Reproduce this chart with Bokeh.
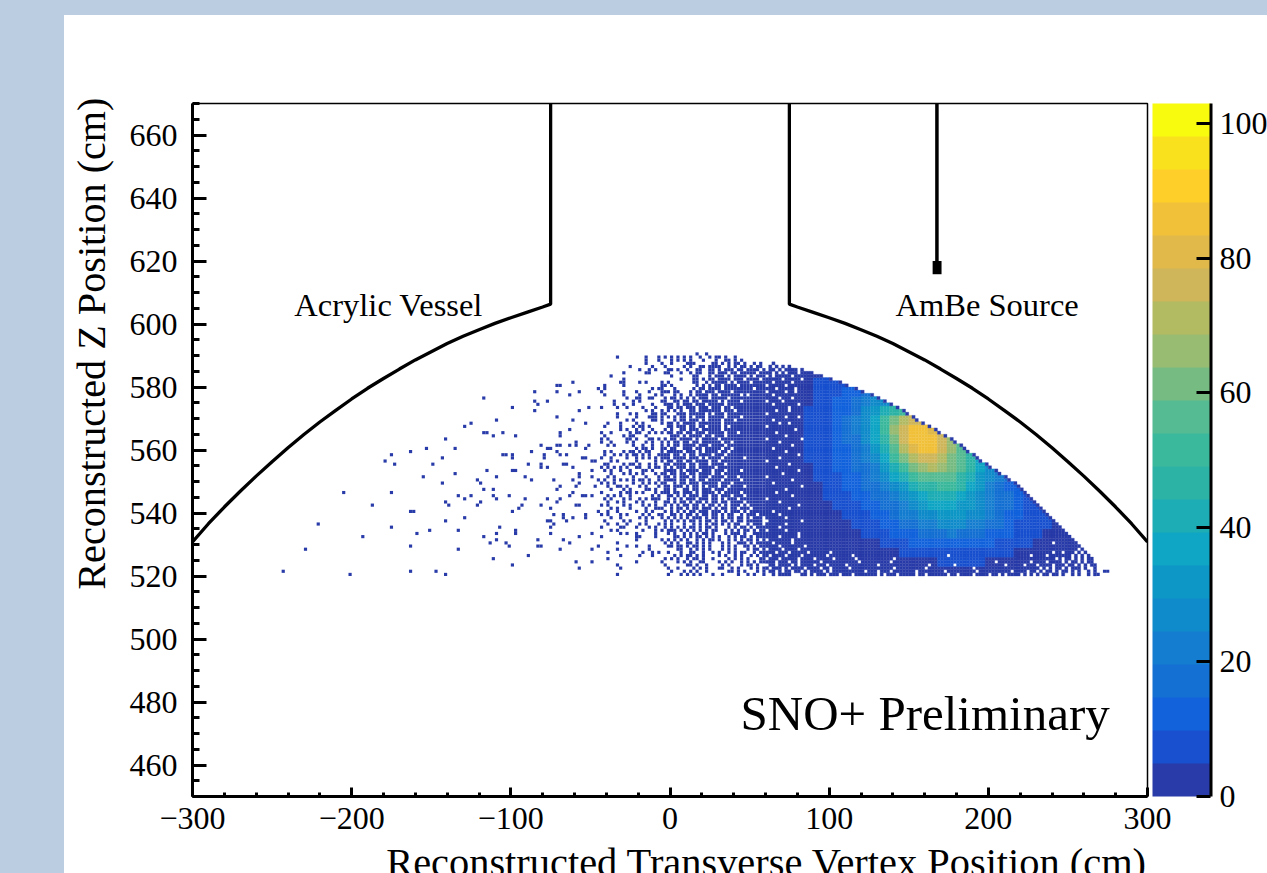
from bokeh.plotting import figure
from bokeh.models import (ColumnDataSource, LinearColorMapper, ColorBar, FixedTicker, Label,
                          Range1d, Title)
from bokeh.embed import file_html
from bokeh.resources import INLINE

PAGE_BLUE = "#bbcde0"
PALETTE = ["#283ba8", "#1850cf", "#1262dc", "#1470d2", "#157dd0", "#0f8aca", "#0d97c6", "#0fa5c4",
           "#1dadb5", "#2db3a6", "#3bb99c", "#55bb93", "#76bc82", "#98bc72", "#b2ba62", "#cfb65a",
           "#e0b94a", "#f2c13a", "#fdcf28", "#fae11d"]
PALETTE_TOP = "#f9fb0e"
COUNT_MAX = 103

X_TICKS = [-300, -200, -100, 0, 100, 200, 300]
X_TICK_LABELS = ["\u2212300", "\u2212200", "\u2212100", "0", "100", "200", "300"]
X_MINOR = [-280, -260, -240, -220, -180, -160, -140, -120, -80, -60, -40, -20, 20, 40, 60, 80,
           120, 140, 160, 180, 220, 240, 260, 280]
Z_TICKS = [460, 480, 500, 520, 540, 560, 580, 600, 620, 640, 660]
Z_MINOR = [450, 455, 465, 470, 475, 485, 490, 495, 505, 510, 515, 525, 530, 535, 545, 550, 555,
           565, 570, 575, 585, 590, 595, 605, 610, 615, 625, 630, 635, 645, 650, 655, 665, 670]
COLORBAR_TICKS = [0, 20, 40, 60, 80, 100]

# Acrylic vessel outline
AV_X = [300, 290, 280, 270, 260, 250, 240, 230, 220, 210, 200, 190, 180, 170, 160, 150, 140, 130, 120,
        110, 100, 90, 80, 75]
AV_Z = [530.8, 536.6, 541.9, 546.9, 551.7, 556.3, 560.7, 564.9, 568.9, 572.6, 576.2, 579.6, 582.7, 585.7,
        588.6, 591.2, 593.8, 596.1, 598.2, 600.2, 602.0, 603.7, 605.4, 606.3]
AV_TOP = 670
ROD_X = [167.7, 167.7]
ROD_Z = [670, 619]
SOURCE_BOX = [165, 170.6, 615.8, 620]

# Isolated occupied bins in the sparse left part and the right tail
SPARSE_X = [-244,-202,-164,-148,-142,-230,-222,-206,-188,-194,-176,-176,-180,-176,-174,-164,-154,-150,-144,-136,
            -142,-130,-126,-118,-100,-110,-118,-116,-112,-106,-98,-86,-86,-86,-84,-78,-72,-70,-72,-64,-62,-58,-58,
            -52,-46,-72,-62,-54,-64,-70,-70,-156,-144,-136,-164,-162,-160,-152,-164,-142,-142,-140,-134,-130,-126,
            -130,-134,-134,-122,-120,-116,-118,-112,-112,-110,-110,-102,-100,-98,-100,-106,-104,-100,-92,-88,-90,
            -92,-94,-96,-100,-120,-122,-108,-110,-118,-114,-110,-104,-102,-98,-98,-112,-100,-90,-84,-84,-82,-68,-70,
            -64,-76,-74,-76,-78,-76,-74,-76,-82,-78,-72,-70,-74,-62,-58,-60,-70,-72,-62,-64,-82,-88,-80,-80,-78,-76,
            -82,-82,-78,-72,-70,-72,-70,-66,-64,-60,-60,-54,-52,-68,-66,-62,-56,-54,-50,-48,-50,-58,-58,-50,-46,-48,
            -68,-68,-66,-62,-54,-54,-46,-58,-50,-50,-46,-60,-50,-58,-56,-54,-60,-58,-50,
            272,274,268]
SPARSE_Z = [521,520,521,521,520,528,536,546,542,532,546,535,556,558,555,559,560,555,557,560,
            563,567,568,576,573,569,565,565,564,565,564,572,578,575,574,575,580,580,578,577,581,578,572,
            573,579,570,569,568,566,565,564,551,549,552,540,540,533,534,529,537,543,542,545,544,545,
            538,534,528,550,549,553,547,547,545,551,544,545,553,553,557,558,558,558,551,550,555,
            544,542,541,540,543,542,535,533,532,530,531,530,529,534,533,525,523,526,531,529,529,531,528,
            530,533,536,535,537,537,539,541,542,544,543,544,550,550,549,548,548,547,546,545,561,559,558,557,560,560,
            555,554,554,561,561,559,558,558,561,562,561,560,561,555,555,554,557,557,556,556,553,552,551,551,550,548,
            539,538,537,538,539,538,540,532,533,528,529,524,524,522,545,545,542,542,545,
            521,521,520]

# Occupied bins (2 cm x 1 cm) of the speckled zone; first column x = -44, first row z = 590
SPECKLE_X0 = -44
SPECKLE_Z0 = 590
SPECKLE_ROWS = [
"..............................#..#..................",
".....#........#...#.#.#.#.#.#..#..#.##.#..#.........",
"..............#...#...#.#.#.#...#...#..##.#.#.......",
"..............#....#..#....###.....##.#.#.##.#..#.#.",
".........#......#...#.....#.#..##.####..#.#.##.#.##.",
"............#..#.#...##.#..#..##..##.#.###.##.####.#",
".......#......##....##...#..#.##..##.###.##.#####.##",
"...#..................#......##...#.###.#.####.#.###",
".......#.................#...##.#.##.####.###.####.#",
"......##....#.#....#.#.......##..#.#####.#.####.####",
".#.....#...........##.#.......#.#.#.##.####.########",
".#..............#.##...#.....#.##.####.#########.###",
"#......#...#...#...###.##...#.##.###.####.##########",
".#.....#....#....#.#...#.#..#.####.##.######.#.#####",
"........#..##..##...#.##.#.#.#.###.#####.###########",
"....#.....#.#......##..##.##.##.#####.#.####.#######",
"....#..#..#.....#...###.#.###.###.#####.############",
"#....#..#....#...#...##.##.###.###.###.##.##########",
"..............#.#..#.#.#.#..##.#######.###.#########",
".....#...#.#....##.##...###.#####.#.###.############",
".....#.....#...###.#.#.#.##.#.###.#####.####.#######",
"........#.#.....##.#...#.##.###.#.####.###.#########",
"..#...#....#.#.....#.##.#.####.#######.#############",
".#....#...#.##.#.....##.###.##.##.####.#.###########",
"......#.#..#.#..#...#.#..##.###.######.#############",
"#..#.....#.##..#.#.#.##.##.##.###.#####.###.########",
".#.....#.##...#.......###.#.####.##.###.############",
"#.#.....##.#...##.#.#.##.####.#.#####.##############",
"#..#....#.#...#.#..#.#.##.##.##.######.##.##########",
"..#.#.....#..#..#..#.#.##.####.###.####.############",
"...........#.##.#..##.##..###.##.#####.##.##########",
".#.#...#.##.#.##...#.#####.###.#.####.##.###########",
".#..#.#.#.##.#.#..####.##.#.##.####.###.############",
"#..#....#..#.#.#.#.###.####.###.#.####.######.######",
"...#.#.....#.....#.#.##.##.##.####.##.##############",
".##....#.##.#..#.#..##.####.##.###.####.############",
"#.#.#.#.#..##..#.##.#.#.###.##.#####.###############",
".#.#..#..#...##.#...####.#.####.###.###.####.#######",
"...#...#.#.#.#...#.##.##.##.##.####.##.#############",
"..#.#.....#...#...#.##.#.###.#.###.####.###.########",
".#..#.#.#.#.##.#..#.####.##.##.##.####.#####.#######",
"#.#.#.....#..#.#.#.##..#.##.###.#####.###.##########",
"..#..##.#...#.#...#.##.###.#.##.#.###.##.####.######",
"...#...#.#....##.#..##.#..##.##.###.###.############",
"#.....#.##.#.#...#.###.##.###.#.####.#.#####.#######",
"..#.#.#..#......#.#..##.#.#.###.##.##.###.###.######",
".#.#...#.#..#.#.###..#.#.#.###.###.##.#.###.########",
"..#..#.#...#.#...#..##.#.##.#.##.#.##.##.####.######",
"#.#....#.#...#.#.#..#.#.#.##.##.#.##.#.#.###.#.#####",
"...#.#...#....#..###..#.##.#.##.###.#.##.##.###.####",
"..#..#.....#..#.#...#.#.#.#.##.###.###.#.###.#.#####",
"#.#...#.#....#.#..##..##.#.##.#.##.##.#.##..#.###.##",
"...#..#.....#.#.#..#.#.#.#.#.###.#.##.#.##.##.#.###.",
".#.....#.#....#.....#.#.#.#.##.#.##.#.##.#.##.#####.",
"..#..#..#...#.#...#.#.#...#..#.#.#.##.#.#.##..#.###.",
"#.....##...#...#.#..#.#.#.#.##.#.##.#...#.#.##.#.###",
"...#.#.......#...#.#.###.#.#.#.#.#.##..#.#.#.##.#.##",
"......#.#..#.....#...#.#..#.#.#.##.#...#.###.#..####",
"#..........##....#.....##.#.#.##.#.#.#..#.#.##.#.###",
"...........#.......#.#.#.#.#..#.#.##.#..#.#.#.##.#.#",
".....#..............#.#.#..##.#.#.#...#.#..###.#.###",
"........#..#...#.....##.##.#.##.#.#...#.#.#..##.#.##",
".....#.........#........##..#.#.#.#...#.#.#...#.##.#",
"..#..........#..#.#..#...#..##..#..#.#..#.#.##..#.##",
"......#.....#...#......#.#.##.#.#....#.#..#.#..#.#.#",
"..#.................#.#.#..#.##.#..#....#.#.#.#...##",
"...........#.......#....#.#.#..##....#.#.#..#.#.#.##",
".....#..............#......##.#..#....#.#...#.##.#..",
"......#..............#..#....#.#.#...##..#.#...#.#.#",
"......................#...#.#.#..#......##.#.#...#.#",
".....#...............#...#.#.#.#...#..#....#..#.#..#",
]

# Right boundary of the occupied bins, one value per 1 cm row from z = 520
EDGE_Z0 = 520
EDGE_X = [268, 268, 268, 267, 266, 265, 263, 261, 259, 257, 255, 253, 251, 249, 247, 245, 243, 242, 240, 238,
          235, 233, 231, 229, 227, 225, 223, 221, 219, 217, 214, 211, 208, 205, 202, 199, 196, 193, 191, 188,
          185, 183, 180, 177, 174, 170, 167, 163, 160, 156, 153, 150, 147, 143, 139, 135, 131, 127, 122, 117,
          112, 107, 102, 96, 90, 84, 78, 66]
RIM_COUNT = 4

# Empty bins inside the dense part. Rows from z = 520 upward; first column x = 60, 2 cm per character
EMPTY_X0 = 60
EMPTY_Z0 = 520
EMPTY_ROWS = [
"##.#....###..#.#...#...#...#.......#.#...#.....#..#......#..#....#....#..#.#....#.#.#.#..#..#.##.#.##.#..",
"#..#.#..#..#.#....#.#..........#...#...#.......#........#.........#..........#....#..#.#..#.#..#.#.##.#.",
".#...#.#....#....#..#.....#.............#.........#..............#....................#.#.#..#.#...#.##.",
"#..#....#.#....#...#.....#.........#...............#.......#...............#.....#...#....#...#..#.#.#.",
"...#...#..#......#...........#.........#................................#..........#....#....#.#..#.#.",
"#...#.....#....#.....#......#...........#..................................................#.#..#.#.#..",
".#....#....#.......#.......#.............................#.........................#....#.......#.#.#.",
"...#...#.....#......#.....................................................................#..#...#.#..",
"#....#....#.......................................................................................#.#..",
"....#.......#......................................................................................#.#.",
"..#.....#.................................................................................#.........#.",
"#.......#...........................................................................................#",
"....#.....#...........................................................................................",
"..........#..",
"#.....#......",
"....#.......",
"......#.....",
"#..........#",
"......#.....",
"....#.......",
"..#.........",
".......#....",
"..........#.",
"....#.......",
"#...........",
"........#...",
"...#........",
"......#.....",
"...........#",
"..#.........",
"........#...",
"#...........",
".....#......",
"..........#.",
"...#........",
".......#....",
"#...........",
"....#.......",
"..........#.",
"......#.....",
"..#.........",
"........#...",
"....#.......",
"#..........#",
"......#.....",
"...#........",
".........#..",
"#...........",
"....#..#....",
"..#.........",
"......#...#.",
"#...........",
"...#...#....",
".......#....",
"..#.......#.",
"#....#......",
"....#...#...",
"..#.........",
"#.....#..#..",
"...#.....#..",
"#.....#.....",
"..#.....#...",
".....#.....#",
"#.#.....#...",
"..#.#.#...#.",
"#..#.#....#.",
"#.#.#.#.#.#.",
"##.#.##.#.#.",
]

COUNT_X0 = 60
COUNT_Z0 = 520
COUNT_ROWS = [
[1,1,1,1,1,1,1,1,1,1,1,2,2,2,2,2,2,2,2,2,2,2,2,2,2,2,2,2,2,2,1,1,1,1,1],
[1,1,1,1,1,1,1,1,1,2,2,2,2,3,3,3,4,4,5,5,5,5,5,4,4,3,3,3,2,2,2,2,1,1,1],
[1,1,1,1,1,1,2,2,2,2,3,3,3,4,5,6,7,7,8,8,8,8,7,6,6,5,4,4,3,2,2,2,2,1,1],
[1,1,1,1,2,2,2,2,3,3,4,4,5,7,8,10,11,12,13,13,13,12,11,10,9,7,6,5,4,3,3,2,2,2,1],
[1,1,1,2,2,2,2,3,3,4,5,6,8,10,12,14,16,18,19,20,19,18,16,14,12,10,8,6,5,4,3,3,2,2,2],
[1,1,2,2,2,2,3,3,4,5,6,8,10,13,16,19,21,23,25,26,25,24,21,18,15,12,9,7,6,5,4,3,3,2,2],
[1,2,2,2,2,3,3,4,5,7,8,10,12,16,20,23,26,29,31,31,30,28,25,21,17,14,10,8,6,5,4,3,3,2,2],
[1,2,2,2,3,3,4,5,8,9,11,13,15,19,24,28,32,35,37,37,34,30,27,22,18,15,11,9,7,5,4,3,3,2,2],
[2,2,2,2,3,4,5,7,9,11,13,15,18,23,28,33,37,40,41,41,37,31,26,22,18,15,12,9,7,5,4,3,3,2,2],
[2,2,2,3,3,4,6,8,10,12,15,18,22,28,34,42,46,48,50,50,45,38,31,24,18,14,11,8,6,5,4,3,3,2,2],
[2,2,2,3,4,5,7,9,11,14,17,21,26,36,44,50,55,58,58,55,48,40,33,26,20,15,11,8,6,5,4,3,3,2,2],
[2,2,2,3,4,6,8,10,12,15,19,24,31,40,52,62,68,70,68,62,54,46,36,28,22,16,12,8,6,5,4,3,3,2,2],
[2,2,3,3,5,7,9,11,13,16,21,28,38,50,62,72,76,76,70,62,54,46,38,30,22,17,12,8,6,5,4,3,3,2,2],
[2,2,3,4,6,7,9,11,14,18,24,32,43,57,70,82,88,86,76,66,56,46,38,30,24,18,12,8,6,5,4,3,3,2,2],
[2,2,3,4,6,7,9,12,15,19,26,35,47,62,76,86,88,86,78,68,58,48,40,30,24,18,12,8,6,5,4,3,3,2,2],
[2,2,3,4,5,7,9,12,15,20,27,37,50,64,76,84,86,82,72,62,52,44,36,28,22,17,12,8,6,5,4,3,3,2,2],
[2,2,3,4,5,7,9,12,15,21,28,37,50,62,70,76,78,72,62,54,46,38,30,24,18,14,10,8,6,5,4,3,3,2,2],
[2,2,3,4,5,6,8,11,14,19,26,33,40,46,52,56,56,50,44,38,30,24,18,14,10,8,6,5,4,3,3,2,2,2,2],
[2,2,3,4,4,6,8,10,13,17,22,26,28,30,32,34,34,30,26,20,16,12,8,6,5,4,3,3,2,2,2,2,2,2,2],
[2,2,3,3,4,6,7,9,11,14,17,20,22,24,24,24,22,20,16,12,8,6,5,4,3,3,2,2,2,2,2,2,2,2,2],
[2,2,3,3,4,5,6,7,7,8,9,10,10,10,10,10,8,7,6,5,4,3,3,2,2,2,2,2,2,2,2,2,2,2,2],
[2,2,2,3,3,3,4,4,5,5,5,5,5,4,4,4,3,3,3,2,2,2,2,2,2,2,2,2,2,2,2,2,2,2,2],
[2,2,2,2,2,2,2,2,2,2,2,2,2,2,2,2,2,2,2,2,2,2,2,2,2,2,2,2,2,2,2,2,2,2,2],
]

p = figure(width=1215, height=905, frame_width=955, frame_height=693,
           x_range=Range1d(-300, 300), y_range=Range1d(450, 670),
           output_backend="svg", toolbar_location=None, min_border_left=140, min_border_right=120,
           min_border_top=88, min_border_bottom=77, margin=(15, 0, 0, 52),
           background_fill_color="white", border_fill_color=None, outline_line_color="black",
           outline_line_width=1.5)
p.grid.visible = False

mapper = LinearColorMapper(palette=PALETTE + [PALETTE_TOP], low=0, high=COUNT_MAX)
fill = {"field": "count", "transform": mapper}

# Dense part: 2 cm x 1 cm bins up to the boundary, value from the count table, empty bins left out
l, b, c = [], [], []
for i, edge in enumerate(EDGE_X):
    z = EDGE_Z0 + i
    row = COUNT_ROWS[min((z - COUNT_Z0) // 3, len(COUNT_ROWS) - 1)]
    empties = EMPTY_ROWS[z - EMPTY_Z0] if z - EMPTY_Z0 < len(EMPTY_ROWS) else ""
    for x in range(COUNT_X0, edge, 2):
        k = (x - EMPTY_X0) // 2
        if k < len(empties) and empties[k] == "#":
            continue
        j = (x - COUNT_X0) // 6
        c.append(RIM_COUNT if x >= edge - 2 else row[j])
        l.append(x)
        b.append(z)
dense = ColumnDataSource(dict(left=l, right=[v + 2 for v in l], bottom=b, top=[v + 1 for v in b], count=c))
p.quad(left="left", right="right", bottom="bottom", top="top", source=dense, fill_color=fill,
       line_color=fill, line_width=0.3)

# Speckle and sparse bins (lowest colour band)
sl, sb = list(SPARSE_X), list(SPARSE_Z)
for i, row in enumerate(SPECKLE_ROWS):
    for j, ch in enumerate(row):
        if ch == "#":
            sl.append(SPECKLE_X0 + 2 * j)
            sb.append(SPECKLE_Z0 - i)
sparse = ColumnDataSource(dict(left=sl, right=[v + 2 for v in sl], bottom=sb, top=[v + 1 for v in sb]))
p.quad(left="left", right="right", bottom="bottom", top="top", source=sparse,
       fill_color=PALETTE[0], line_color=None)

p.line([-v for v in AV_X] + [-AV_X[-1]], AV_Z + [AV_TOP], line_color="black", line_width=3.3)
p.line(AV_X + [AV_X[-1]], AV_Z + [AV_TOP], line_color="black", line_width=3.3)
p.line(ROD_X, ROD_Z, line_color="black", line_width=3.5)
p.quad(left=[SOURCE_BOX[0]], right=[SOURCE_BOX[1]], bottom=[SOURCE_BOX[2]], top=[SOURCE_BOX[3]],
       fill_color="black", line_color=None)

FONT = "Liberation Serif"
ax = p.xaxis[0]
ax.ticker = FixedTicker(ticks=X_TICKS, minor_ticks=X_MINOR)
ax.major_label_overrides = dict(zip(X_TICKS, X_TICK_LABELS))
ax.major_tick_in, ax.major_tick_out = 9, 0
ax.minor_tick_in, ax.minor_tick_out = 4, 0
ay = p.yaxis[0]
ay.ticker = FixedTicker(ticks=Z_TICKS, minor_ticks=Z_MINOR)
ay.major_tick_in, ay.major_tick_out = 14, 0
ay.minor_tick_in, ay.minor_tick_out = 7, 0
for a, standoff in ((ax, 11), (ay, 15)):
    a.axis_line_color = "black"
    a.axis_line_width = 3
    a.major_tick_line_color = "black"
    a.major_tick_line_width = 3
    a.minor_tick_line_color = "black"
    a.minor_tick_line_width = 3
    a.major_label_text_font = FONT
    a.major_label_text_font_size = "32px"
    a.major_label_text_color = "black"
    a.major_label_standoff = standoff

bar = ColorBar(color_mapper=mapper, width=58, height=693, location=(960, 0), padding=0, margin=0,
               ticker=FixedTicker(ticks=COLORBAR_TICKS), major_tick_in=14, major_tick_out=0,
               major_tick_line_color="black", major_tick_line_width=3, minor_tick_line_color=None,
               bar_line_color=None, border_line_color=None, background_fill_color=None,
               major_label_text_font=FONT, major_label_text_font_size="32px",
               major_label_text_color="black", label_standoff=9)
p.add_layout(bar, "center")
axis_line = ColorBar(color_mapper=LinearColorMapper(palette=["black"], low=0, high=COUNT_MAX), width=3,
                     height=693, location=(1017, 0), padding=0, margin=0,
                     ticker=FixedTicker(ticks=[]), major_tick_line_color=None, minor_tick_line_color=None,
                     bar_line_color=None, border_line_color=None, background_fill_color=None,
                     major_label_text_color=None)
p.add_layout(axis_line, "center")

for text, x, y, size in (("Acrylic Vessel", -236, 606, 32.5), ("AmBe Source", 141.7, 606, 32.5),
                         ("SNO+ Preliminary", 44.3, 476.5, 49)):
    p.add_layout(Label(x=x, y=y, text=text, text_font=FONT, text_font_size=f"{size}px",
                       text_color="black", text_align="left", text_baseline="alphabetic"))

p.add_layout(Title(text="Reconstructed Transverse Vertex Position (cm)", align="right", text_font=FONT,
                   text_font_size="40.4px", text_font_style="normal", text_color="black", standoff=13), "below")
p.add_layout(Title(text="Reconstructed Z Position (cm)", align="right", text_font=FONT, offset=-6,
                   text_font_size="40.2px", text_font_style="normal", text_color="black", standoff=26), "left")

css = ("<style>html,body{margin:0;padding:0;overflow:hidden}"
       "html{background:linear-gradient(%s,%s) 0 0/100%% 15px no-repeat,"
       "linear-gradient(%s,%s) 0 0/64px 100%% no-repeat,white}</style></head>"
       % (PAGE_BLUE, PAGE_BLUE, PAGE_BLUE, PAGE_BLUE))
html = file_html(p, INLINE).replace("</head>", css, 1)
open("out.html", "w").write(html)
